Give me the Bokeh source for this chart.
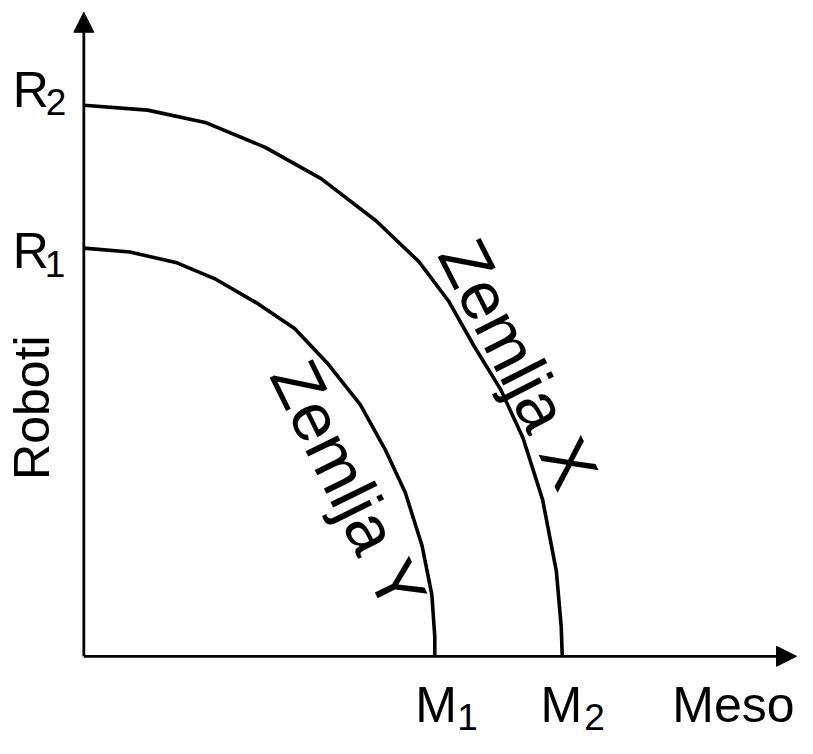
import math
from bokeh.plotting import figure
from bokeh.models import Range1d, Arrow, NormalHead
from bokeh.core.properties import value
from bokeh.embed import file_html
from bokeh.resources import INLINE

# ---- data (arbitrary units) ----
M1, M2 = 35.8, 48.8          # Meso intercepts
R1, R2 = 41.7, 56.3          # Roboti intercepts
AXIS_X_MAX = 72.7
AXIS_Y_MAX = 65.8

country_x_meso = [0, 6.5, 12.5, 18.5, 24.2, 29.8, 34.2, 37.2, 39.8, 42.5, 44.8, 46.8, 48.2, 48.7, M2]
country_x_robots = [R2, 55.8, 54.5, 52.0, 48.8, 44.5, 40.3, 36.3, 31.7, 27.3, 22.3, 16.0, 8.7, 3.0, 0]

country_y_meso = [0, 4.7, 9.5, 13.5, 17.8, 21.5, 24.8, 28.2, 30.8, 32.8, 34.5, 35.5, 35.8, M1]
country_y_robots = [R1, 41.3, 40.2, 38.5, 36.0, 33.5, 30.0, 25.7, 21.0, 16.7, 11.3, 6.3, 2.0, 0]

label_x = "Zemlja X"
label_y = "Zemlja Y"
x_title = "Meso"
y_title = "Roboti"

FONT = value("Liberation Sans")
BIG = "50px"
SUB = "37px"

p = figure(width=797, height=738, x_range=Range1d(-8.5, 72.8), y_range=Range1d(-8.4, 67.0),
           output_backend="svg", toolbar_location=None, min_border=0)
p.axis.visible = False
p.grid.visible = False
p.outline_line_color = None
p.background_fill_color = "white"
p.border_fill_color = "white"

# axes with arrow heads
p.add_layout(Arrow(end=NormalHead(size=20, fill_color="black", line_color="black", line_width=1),
                   x_start=0, y_start=0, x_end=AXIS_X_MAX, y_end=0,
                   line_color="black", line_width=2.8))
p.add_layout(Arrow(end=NormalHead(size=20, fill_color="black", line_color="black", line_width=1),
                   x_start=0, y_start=0, x_end=0, y_end=AXIS_Y_MAX,
                   line_color="black", line_width=2.8))

# frontiers
p.line(country_x_meso, country_x_robots, line_color="black", line_width=3.6, line_join="round")
p.line(country_y_meso, country_y_robots, line_color="black", line_width=3.6, line_join="round")

def txt(x, y, s, size, align="left", dx=0, dy=0, angle=0):
    p.text(x=[x], y=[y], text=[s], text_font=FONT, text_font_size=size,
           text_align=align, text_baseline="middle", x_offset=dx, y_offset=dy,
           angle=angle, text_color="black")

# y-axis tick labels
txt(0, R2, "R", BIG, align="right", dx=-35, dy=-15.2)
txt(0, R2, "2", SUB, dx=-38, dy=-2.9)
txt(0, R1, "R", BIG, align="right", dx=-35, dy=2.5)
txt(0, R1, "1", SUB, dx=-39, dy=15.7)

# x-axis tick labels
txt(M1, 0, "M", BIG, dx=-19.6, dy=49)
txt(M1, 0, "1", SUB, dx=22.5, dy=61)
txt(M2, 0, "M", BIG, dx=-21.6, dy=49)
txt(M2, 0, "2", SUB, dx=22, dy=61)

# axis titles
txt(AXIS_X_MAX, 0, x_title, BIG, align="right", dx=-2, dy=49)
txt(0, 0, y_title, BIG, dx=-51.5, dy=-176.4, angle=math.pi / 2)

# curve labels
txt(country_x_meso[9], country_x_robots[9], label_x, "68px", align="center",
    dx=18.5, dy=-25.5, angle=-1.10)
txt(country_y_meso[8], country_y_robots[8], label_y, "68px", align="center",
    dx=-36.5, dy=35, angle=-1.115)

open("out.html", "w").write(file_html(p, INLINE))
